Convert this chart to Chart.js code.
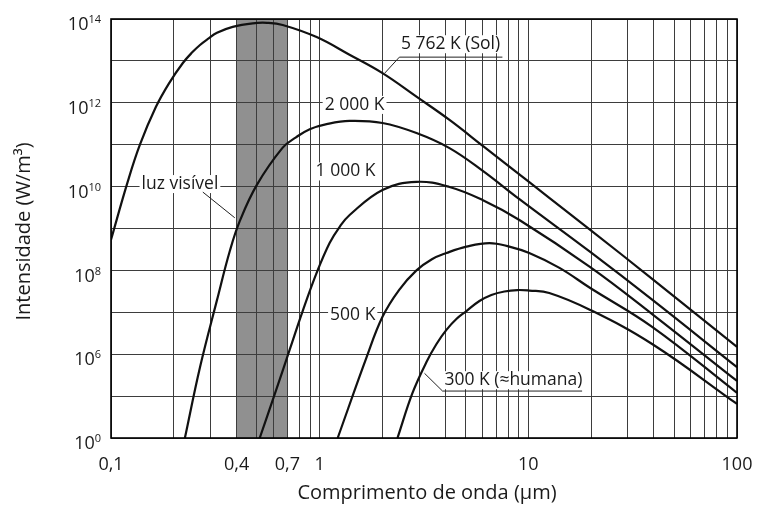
<!DOCTYPE html>
<html lang="pt">
<head>
<meta charset="utf-8">
<title>Radiação de corpo negro</title>
<script src="https://cdn.jsdelivr.net/npm/chart.js@4.4.1/dist/chart.umd.min.js"></script>
<style>
  html, body { margin: 0; padding: 0; background: #fff; }
  canvas { display: block; }
</style>
</head>
<body>
<canvas id="planck" width="760" height="509"></canvas>
<script>
// Comprimento de onda (µm) e intensidade (W/m³) de cada curva
const sunWavelength  = [0.1, 0.12, 0.1376, 0.164, 0.19, 0.221, 0.245, 0.267, 0.29, 0.322, 0.383, 0.478, 0.56, 0.665, 0.967, 1.39, 2.0, 2.91, 4.19, 6.03, 8.11, 12.6, 19.8, 39.2, 100];
const sunIntensity   = [5.4e8, 1.26e10, 1.0e11, 7.9e11, 2.95e12, 8.9e12, 1.6e13, 2.4e13, 3.3e13, 4.7e13, 6.5e13, 7.9e13, 8.1e13, 7.2e13, 3.7e13, 1.4e13, 5.1e12, 1.4e12, 3.9e11, 9.5e10, 3.0e10, 5.4e9, 9.3e8, 6.3e7, 1.5e6];

const k2000Wavelength = [0.226, 0.267, 0.322, 0.371, 0.414, 0.500, 0.665, 0.77, 0.896, 1.08, 1.39, 2.0, 2.91, 4.19, 6.03, 9.06, 19.8, 39.2, 100];
const k2000Intensity  = [1e4, 4.9e5, 1.95e7, 2.9e8, 1.5e9, 1.1e10, 8.5e10, 1.5e11, 2.35e11, 3.1e11, 3.7e11, 3.3e11, 1.9e11, 8.3e10, 2.4e10, 5.0e9, 2.75e8, 2.0e7, 4.9e5];

const k1000Wavelength = [0.516, 0.623, 0.719, 0.829, 0.967, 1.116, 1.247, 1.392, 2.0, 2.91, 4.19, 6.03, 9.06, 19.8, 39.2, 100];
const k1000Intensity  = [1e4, 1.55e5, 1.3e6, 1.07e7, 8.7e7, 4.5e8, 1.1e9, 2.1e9, 8.3e9, 1.3e10, 9.8e9, 4.8e9, 1.6e9, 1.2e8, 9.1e6, 2.3e5];

const k500Wavelength  = [1.22, 1.679, 2.0, 2.4, 2.91, 3.45, 4.05, 5.05, 6.51, 8.11, 10.1, 14.1, 19.8, 39.2, 100];
const k500Intensity   = [1e4, 8.5e5, 7.8e6, 3.4e7, 1.0e8, 1.85e8, 2.6e8, 3.7e8, 4.5e8, 3.7e8, 2.6e8, 1.15e8, 3.8e7, 4.5e6, 1.2e5];

const k300Wavelength  = [2.36, 2.786, 3.25, 3.63, 4.05, 4.52, 5.05, 5.83, 6.65, 7.68, 8.86, 10.1, 12.6, 19.8, 39.2, 100];
const k300Intensity   = [1e4, 1.19e5, 6.5e5, 1.75e6, 3.8e6, 6.9e6, 1.07e7, 1.86e7, 2.6e7, 3.14e7, 3.4e7, 3.3e7, 2.9e7, 1.14e7, 1.75e6, 6.5e4];

// Faixa da luz visível (µm)
const visibleBand = [0.4, 0.7];

// Eixo x: rótulos e linhas de grade (1–9 por década)
const xTickValues = [0.1, 0.4, 0.7, 1, 10, 100];
const xTickLabels = ['0,1', '0,4', '0,7', '1', '10', '100'];
const xGridValues = [0.1,0.2,0.3,0.4,0.5,0.6,0.7,0.8,0.9, 1,2,3,4,5,6,7,8,9, 10,20,30,40,50,60,70,80,90, 100];

// Eixo y: uma linha por década, rótulo a cada duas
const yGridValues = [1e4,1e5,1e6,1e7,1e8,1e9,1e10,1e11,1e12,1e13,1e14];
const yTickValues = [1e14, 1e12, 1e10, 1e8, 1e6, 1e4];
const yTickExponents = ['14', '12', '10', '8', '6', '0'];

const curves = [
  { label: '5 762 K (Sol)', wl: sunWavelength, val: sunIntensity },
  { label: '2 000 K', wl: k2000Wavelength, val: k2000Intensity },
  { label: '1 000 K', wl: k1000Wavelength, val: k1000Intensity },
  { label: '500 K', wl: k500Wavelength, val: k500Intensity },
  { label: '300 K (≈humana)', wl: k300Wavelength, val: k300Intensity }
];

// Rótulos das curvas em coordenadas de dados (µm, W/m³), com linhas de chamada
const callouts = [
  { text: '5 762 K (Sol)', at: [4.24, 2.5e13], leader: [[7.51, 1.23e13], [2.41, 1.23e13], [2.05, 5.1e12]] },
  { text: '2 000 K', at: [1.47, 8.9e11] },
  { text: '1 000 K', at: [1.33, 2.3e10] },
  { text: '500 K', at: [1.44, 8.7e6] },
  { text: '300 K (≈humana)', at: [8.48, 2.4e5], leader: [[18.1, 1.32e5], [3.88, 1.32e5], [3.18, 3.5e5]] },
  { text: 'luz visível', at: [0.214, 1.15e10], leader: [[0.2755, 7.4e9], [0.392, 1.8e9]] }
];

const FONT = '"Open Sans", "Noto Sans", sans-serif';
const INK = '#1a1a1a';

const decorations = {
  id: 'decorations',
  beforeDraw(chart) {
    const { ctx, chartArea: a, scales: { x } } = chart;
    ctx.save();
    ctx.fillStyle = '#fff';
    ctx.fillRect(0, 0, chart.width, chart.height);
    const x0 = x.getPixelForValue(visibleBand[0]);
    const x1 = x.getPixelForValue(visibleBand[1]);
    ctx.fillStyle = '#909090';
    ctx.fillRect(x0, a.top, x1 - x0, a.bottom - a.top);
    ctx.restore();
  },
  beforeDatasetsDraw(chart) {
    const { ctx, scales: { x, y } } = chart;
    ctx.save();
    ctx.font = '17.5px ' + FONT;
    ctx.textAlign = 'center';
    ctx.textBaseline = 'middle';
    callouts.forEach(c => {
      const px = x.getPixelForValue(c.at[0]);
      const py = y.getPixelForValue(c.at[1]);
      const w = ctx.measureText(c.text).width;
      ctx.fillStyle = '#fff';
      ctx.fillRect(px - w / 2 - 2, py - 9, w + 4, 18);
      ctx.fillStyle = INK;
      ctx.fillText(c.text, px, py);
      if (c.leader) {
        ctx.beginPath();
        c.leader.forEach((p, i) => {
          const lx = x.getPixelForValue(p[0]);
          const ly = y.getPixelForValue(p[1]);
          if (i === 0) ctx.moveTo(lx, ly); else ctx.lineTo(lx, ly);
        });
        ctx.strokeStyle = '#222';
        ctx.lineWidth = 1;
        ctx.stroke();
      }
    });
    ctx.restore();
  },
  afterDatasetsDraw(chart) {
    const { ctx, chartArea: a, scales: { x, y } } = chart;
    ctx.save();
    // moldura
    ctx.strokeStyle = '#000';
    ctx.lineWidth = 1.6;
    ctx.strokeRect(a.left, a.top, a.right - a.left, a.bottom - a.top);

    ctx.fillStyle = INK;
    // rótulos do eixo x
    ctx.font = '18px ' + FONT;
    ctx.textAlign = 'center';
    ctx.textBaseline = 'alphabetic';
    xTickValues.forEach((v, i) => {
      ctx.fillText(xTickLabels[i], x.getPixelForValue(v), a.bottom + 32);
    });

    // rótulos do eixo y: potências de dez
    const right = a.left - 10;
    yTickValues.forEach((v, i) => {
      const py = y.getPixelForValue(v);
      ctx.font = '11px ' + FONT;
      const sw = ctx.measureText(yTickExponents[i]).width;
      ctx.textAlign = 'left';
      ctx.textBaseline = 'middle';
      ctx.fillText(yTickExponents[i], right - sw, py + 1);
      ctx.font = '18px ' + FONT;
      ctx.textAlign = 'right';
      ctx.fillText('10', right - sw, py + 6);
    });

    // títulos dos eixos
    ctx.font = '20px ' + FONT;
    ctx.textAlign = 'center';
    ctx.textBaseline = 'middle';
    ctx.fillText('Comprimento de onda (µm)', (a.left + a.right) / 2 + 3, 493);
    ctx.translate(24, (a.top + a.bottom) / 2 + 3);
    ctx.rotate(-Math.PI / 2);
    ctx.fillText('Intensidade (W/m³)', 0, 0);
    ctx.restore();
  }
};

const gridStyle = { color: '#3d3d3d', lineWidth: 1, drawTicks: false };

new Chart(document.getElementById('planck'), {
  type: 'line',
  data: {
    datasets: curves.map(c => ({
      label: c.label,
      data: c.wl.map((w, i) => ({ x: w, y: c.val[i] })),
      borderColor: '#111',
      borderWidth: 2.2,
      pointRadius: 0,
      fill: false,
      tension: 0.4
    }))
  },
  options: {
    responsive: false,
    animation: false,
    devicePixelRatio: 1,
    layout: { padding: { top: 19, right: 23, left: 0, bottom: 0 } },
    plugins: { legend: { display: false }, tooltip: { enabled: false } },
    scales: {
      x: {
        type: 'logarithmic', min: 0.1, max: 100,
        afterBuildTicks: s => { s.ticks = xGridValues.map(v => ({ value: v })); },
        afterFit: s => { s.height = 71; },
        ticks: { display: false },
        grid: gridStyle,
        border: { display: false }
      },
      y: {
        type: 'logarithmic', min: 1e4, max: 1e14,
        afterBuildTicks: s => { s.ticks = yGridValues.map(v => ({ value: v })); },
        afterFit: s => { s.width = 111; },
        ticks: { display: false },
        grid: gridStyle,
        border: { display: false }
      }
    }
  },
  plugins: [decorations]
});
</script>
</body>
</html>
